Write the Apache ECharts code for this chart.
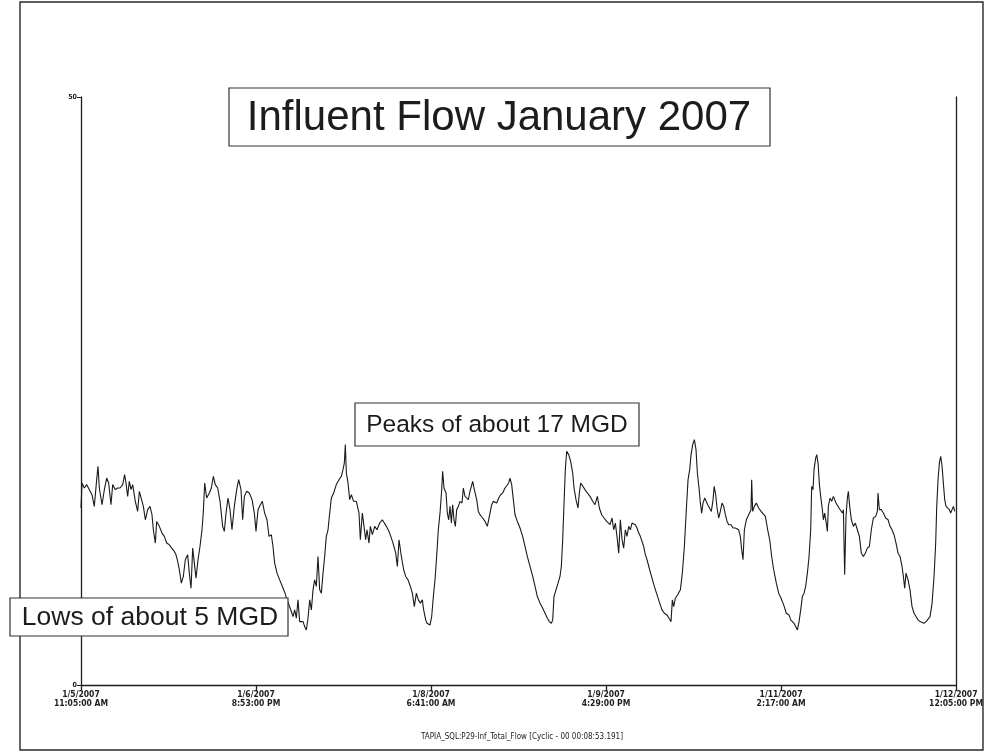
<!DOCTYPE html>
<html>
<head>
<meta charset="utf-8">
<script src="https://cdn.jsdelivr.net/npm/echarts@6/dist/echarts.min.js"></script>
<style>
  html, body { margin: 0; padding: 0; background: #fff; }
  #main { width: 986px; height: 755px; }
</style>
</head>
<body>
<div id="main"></div>
<script>
// hours after 1/5/2007 11:05:00 AM
const hoursFromStart = [
  0, 0.19, 0.64, 1.09, 1.61, 2.12, 2.57, 3.03, 3.28, 3.54, 4.06, 4.51, 4.96, 5.34, 5.79, 6.12, 6.63, 7.08, 7.53, 8.05,
  8.43, 8.69, 9.01, 9.33, 9.66, 9.98, 10.49, 10.94, 11.27, 11.65, 12.04, 12.43, 12.88, 13.33, 13.71, 13.97, 14.36, 14.61, 15.13, 15.64,
  16.09, 16.55, 17.06, 17.51, 18.03, 18.35, 18.67, 18.99, 19.38, 19.76, 20.15, 20.60, 20.92, 21.25, 21.57, 21.89, 22.21, 22.60, 22.98, 23.37,
  23.63, 23.89, 24.27, 24.79, 25.17, 25.56, 25.94, 26.40, 26.85, 27.36, 27.68, 28.01, 28.39, 28.78, 29.16, 29.61, 30.07, 30.45, 30.90, 31.22,
  31.55, 32.00, 32.51, 33.03, 33.48, 33.80,
  34.19, 34.64, 35.02, 35.47, 35.92, 36.31, 36.76, 37.08, 37.40, 37.86, 38.37, 38.89, 39.40, 39.79, 40.17, 40.62, 40.95, 41.27, 41.59, 41.91,
  42.23, 42.55, 42.88, 43.20, 43.52, 43.84, 44.17, 44.49, 44.81, 45.13, 45.45, 45.77, 46.10, 46.42, 46.74, 47.06, 47.38, 47.71, 48.03, 48.35,
  48.80, 49.31, 49.83, 50.28, 50.60, 50.86, 51.05, 51.25, 51.57, 51.89, 52.21, 52.66, 53.18, 53.69, 53.95, 54.34, 54.66, 54.98, 55.24, 55.62,
  55.88, 56.27, 56.72, 57.17, 57.68, 58.20, 58.52, 58.97, 59.49, 59.94, 60.26, 60.78, 61.10, 61.42, 61.87, 62.32, 62.71, 63.16, 63.61, 63.99,
  64.38, 64.77, 65.15, 65.54, 65.92, 66.18, 66.57, 66.83,
  67.41, 67.73, 68.05, 68.37, 68.69, 69.01, 69.34, 69.66, 69.85, 70.11, 70.50, 70.75, 71.01, 71.27, 71.53, 71.78, 72.04, 72.30, 72.56, 72.88,
  73.20, 73.59, 73.84, 74.17, 74.49, 74.81, 75.13, 75.45, 75.65, 75.90, 76.16, 76.42, 76.74, 77.06, 77.58, 78.03, 78.48, 78.74, 78.99, 79.32,
  79.64, 79.96, 80.28, 80.67, 81.05, 81.44, 81.89, 82.21, 82.60, 82.86, 83.18, 83.50, 83.82, 84.27, 84.79, 85.30, 85.75, 86.20, 86.72, 87.24,
  87.69, 88.14, 88.65, 89.17, 89.62, 90.07, 90.45, 90.84, 91.10, 91.35, 91.74, 92.13, 92.51, 92.77, 93.03, 93.29, 93.54, 93.80, 94.19, 94.57,
  94.96, 95.22, 95.60, 95.99, 96.25, 96.51, 96.89, 97.34, 97.79, 98.31, 98.83, 99.27, 99.73, 100.11, 100.56, 101.01, 101.53, 102.17,
  102.56, 102.88, 103.20, 103.52, 103.85, 104.17, 104.49, 104.81, 105.13, 105.45, 105.78, 106.10, 106.42, 106.74, 107.06, 107.39, 107.71, 108.03, 108.35, 108.67,
  109.00, 109.32, 109.83, 110.28, 110.73, 111.25, 111.77, 112.21, 112.67, 113.18, 113.57, 113.95, 114.21, 114.47, 114.79, 115.24, 115.76, 116.14, 116.53, 116.91,
  117.24, 117.56, 117.82, 118.14, 118.46, 118.78, 119.04, 119.36, 119.62, 119.88, 120.13, 120.46, 120.78, 121.04, 121.42, 121.74, 122.07, 122.29, 122.58, 122.84,
  123.16, 123.48, 123.80, 124.12, 124.45, 124.77, 125.09, 125.54, 125.93, 126.38, 126.70, 127.02, 127.34, 127.60, 127.86, 128.12, 128.50, 128.95, 129.40, 129.53,
  129.72, 130.05, 130.43, 130.88, 131.34, 131.72, 132.17, 132.62, 133.01, 133.39, 133.78, 134.29, 134.74, 135.20, 135.71, 136.22,
  136.42, 136.74, 137.07, 137.39, 137.71, 138.03, 138.36, 138.68, 139.00, 139.32, 139.64, 139.96, 140.29, 140.61, 140.93, 141.12, 141.38, 141.57, 141.90, 142.09,
  142.35, 142.61, 142.86, 143.18, 143.38, 143.63, 143.89, 144.15, 144.34, 144.66, 144.98, 145.31, 145.56, 145.82, 146.08, 146.40, 146.72, 147.04, 147.24, 147.49,
  147.75, 148.01, 148.20, 148.46, 148.78, 149.17, 149.55, 149.94, 150.33, 150.71, 151.10, 151.49, 151.87, 152.26, 152.64, 153.03, 153.48, 153.80, 153.93, 154.19,
  154.58, 154.96, 155.41, 155.87, 156.25, 156.64, 157.02, 157.41, 157.80, 158.18, 158.57, 158.83, 159.08, 159.34, 159.73, 160.11, 160.50, 160.89, 161.27, 161.66,
  162.05, 162.43, 162.82, 163.21, 163.59, 163.98, 164.37, 164.75, 165.07, 165.27, 165.52, 165.78, 166.04, 166.30, 166.55, 166.81, 167.07, 167.33, 167.71, 167.97,
  168.23, 168.49, 168.75
];

// influent flow, MGD
const flowMgd = [
  15.05, 17.18, 16.75, 17.04, 16.61, 16.18, 15.19, 17.46, 18.60, 16.75, 15.33, 16.61, 17.60, 17.18, 15.33, 17.04, 16.61, 16.75, 16.75, 17.04,
  17.89, 17.18, 16.04, 17.32, 16.61, 17.04, 15.62, 14.76, 16.47, 16.61, 15.19, 14.05, 14.91, 15.19, 14.48, 13.20, 12.07, 13.91, 13.49, 12.92,
  12.64, 12.07, 11.93, 11.64, 11.36, 11.07, 10.51, 9.80, 8.66, 9.23, 10.65, 11.07, 9.51, 8.23, 11.64, 10.36, 9.09, 10.65, 11.78, 13.20,
  14.76, 17.18, 15.90, 16.33, 16.75, 17.75, 17.04, 16.75, 15.62, 13.49, 13.06, 14.62, 15.90, 14.91, 13.20, 15.19, 16.61, 17.46, 16.61, 14.05,
  16.04, 16.47, 16.33, 15.76, 14.62, 13.06,
  14.91, 15.33, 15.62, 14.62, 14.05, 12.64, 12.78, 11.78, 10.36, 9.51, 8.94, 8.38, 7.81, 7.24, 6.81, 6.25, 5.82, 6.39, 5.68, 7.24,
  5.39, 5.25, 5.39, 4.97, 4.68, 5.68, 7.24, 6.39, 8.09, 8.94, 8.38, 10.93, 8.09, 7.81, 9.51, 10.93, 12.64, 13.20, 14.62, 15.90,
  16.33, 17.04, 17.46, 17.75, 18.31, 18.88, 20.44, 18.03, 17.18, 15.76, 16.18, 15.62, 15.62, 14.62, 12.35, 14.62, 13.49, 12.35, 13.20, 12.07,
  13.49, 12.78, 13.49, 13.20, 13.77, 14.05, 14.20, 13.49, 13.06, 12.49, 12.07, 11.21, 10.08, 12.35, 10.93, 9.80, 9.23, 8.94, 8.38, 7.81,
  6.67, 7.81, 7.24, 6.96, 7.24, 6.39, 5.54, 5.25,
  5.11, 5.82, 7.52, 8.94, 10.93, 13.20, 14.62, 16.61, 18.17, 16.75, 16.33, 14.62, 14.05, 15.19, 13.77, 15.33, 14.05, 13.49, 14.91, 15.19,
  15.62, 15.47, 16.75, 16.04, 16.18, 15.76, 16.47, 16.61, 17.32, 16.75, 16.89, 15.76, 14.76, 14.48, 14.20, 13.91, 13.49, 13.35, 14.62, 15.33,
  15.62, 15.76, 15.47, 15.90, 16.18, 16.33, 16.75, 16.89, 17.18, 17.60, 17.04, 15.76, 14.48, 13.91, 13.35, 12.64, 11.78, 10.93, 10.08, 9.23,
  8.38, 7.52, 6.96, 6.53, 6.10, 5.68, 5.39, 5.25, 5.54, 7.52, 8.09, 8.66, 9.23, 10.08, 12.35, 15.47, 18.31, 19.87, 19.59, 19.02,
  18.03, 16.75, 15.76, 15.05, 16.33, 17.18, 17.04, 16.61, 16.33, 16.04, 15.62, 15.33, 16.04, 15.05, 14.48, 14.20, 13.91, 13.63,
  14.20, 13.20, 13.77, 12.64, 11.21, 14.05, 12.35, 11.64, 13.20, 12.64, 13.49, 13.20, 13.77, 13.91, 13.63, 13.35, 12.92, 12.64, 12.78, 11.78,
  11.07, 10.65, 9.80, 9.09, 8.38, 7.67, 6.96, 6.39, 6.10, 5.96, 5.68, 5.39, 7.24, 6.67, 7.38, 7.67, 8.09, 9.51, 11.78, 14.91,
  17.46, 18.31, 19.59, 20.44, 20.87, 20.02, 18.03, 16.75, 15.47, 14.62, 15.47, 15.90, 15.76, 15.33, 15.19, 14.76, 15.76, 16.89, 16.18, 15.05,
  14.20, 14.76, 15.47, 15.19, 14.48, 13.91, 13.63, 13.63, 13.35, 13.35, 13.35, 13.20, 12.64, 11.50, 10.65, 13.20, 14.05, 14.48, 14.91, 17.46,
  14.76, 15.19, 15.47, 15.05, 14.76, 14.91, 14.34, 13.20, 12.35, 10.93, 9.80, 8.66, 7.81, 7.38, 6.81, 6.10,
  6.25, 5.96, 5.54, 5.68, 5.25, 4.97, 4.68, 5.39, 6.39, 7.52, 7.81, 8.38, 9.51, 10.93, 13.20, 16.89, 16.61, 18.31, 19.31, 19.59,
  18.88, 17.04, 16.04, 14.91, 14.05, 14.62, 13.91, 13.06, 15.19, 15.90, 15.62, 16.04, 16.18, 15.47, 15.62, 15.05, 15.19, 14.62, 14.91, 9.37,
  14.34, 15.90, 16.47, 15.19, 14.05, 13.49, 13.77, 13.20, 12.64, 11.21, 10.93, 11.21, 11.64, 11.78, 13.20, 14.20, 14.34, 14.76, 16.33, 14.91,
  14.91, 14.62, 14.20, 14.05, 13.49, 13.20, 12.78, 12.07, 11.21, 10.93, 10.08, 9.23, 8.23, 9.51, 8.94, 8.09, 6.67, 6.10, 5.82, 5.54,
  5.39, 5.54, 5.25, 5.39, 5.39, 5.82, 6.96, 9.23, 12.07, 15.19, 17.46, 18.88, 19.45, 18.60, 17.18, 15.76, 15.19, 15.05, 14.91, 14.62,
  14.91, 15.19, 14.76
];

// axis settings
const startTime = Date.UTC(2007, 0, 5, 11, 5, 0);
const xMaxHours = 169;
const xTickHours = 33.8;   // 33:48:00 between labels
const yMax = 50;

const titleText = 'Influent Flow January 2007';
const peakNote = 'Peaks of about 17 MGD';
const lowNote = 'Lows of about 5 MGD';
const tagText = 'TAPIA_SQL:P29-Inf_Total_Flow [Cyclic - 00 00:08:53.191]';

const seriesData = hoursFromStart.map((h, i) => [h, flowMgd[i]]);

function fmtTick(value) {
  const t = new Date(startTime + Math.round(value * 60) * 60000);
  const hr = t.getUTCHours();
  const h12 = hr % 12 === 0 ? 12 : hr % 12;
  const mm = String(t.getUTCMinutes()).padStart(2, '0');
  const ampm = hr < 12 ? 'AM' : 'PM';
  return (t.getUTCMonth() + 1) + '/' + t.getUTCDate() + '/' + t.getUTCFullYear() +
    '\n' + h12 + ':' + mm + ':00 ' + ampm;
}

const smallFont = "'Liberation Sans Narrow', 'DejaVu Sans Condensed', sans-serif";
const boxFont = "'Liberation Sans', Arial, sans-serif";

const chart = echarts.init(document.getElementById('main'), null, { renderer: 'canvas' });

const option = {
  backgroundColor: '#ffffff',
  animation: false,
  grid: { left: 81, right: 29, top: 97, bottom: 70 },
  xAxis: {
    type: 'value',
    min: 0,
    max: xMaxHours,
    interval: xTickHours,
    axisLine: { lineStyle: { color: '#1e1e1e', width: 1.3 } },
    axisTick: { show: true, length: 6, lineStyle: { color: '#1e1e1e', width: 1.3 } },
    splitLine: { show: false },
    axisLabel: {
      formatter: fmtTick,
      color: '#1e1e1e',
      fontSize: 8.5,
      fontWeight: 'bold',
      lineHeight: 9,
      fontFamily: smallFont,
      showMaxLabel: true,
      showMinLabel: true,
      hideOverlap: false,
      margin: 5
    }
  },
  yAxis: [
    {
      type: 'value',
      min: 0,
      max: yMax,
      interval: yMax,
      axisLine: { show: true, lineStyle: { color: '#1e1e1e', width: 1.3 } },
      axisTick: { show: true, length: 4, lineStyle: { color: '#1e1e1e' } },
      splitLine: { show: false },
      axisLabel: { color: '#222', fontSize: 7, fontWeight: 'bold', fontFamily: smallFont, margin: 4 }
    },
    {
      type: 'value',
      position: 'right',
      min: 0,
      max: yMax,
      interval: yMax,
      axisLine: { show: true, lineStyle: { color: '#1e1e1e', width: 1.3 } },
      axisTick: { show: false },
      axisLabel: { show: false },
      splitLine: { show: false }
    }
  ],
  series: [
    {
      type: 'line',
      data: seriesData,
      showSymbol: false,
      symbol: 'none',
      lineStyle: { color: '#1a1a1a', width: 1.1 },
      z: 2
    }
  ],
  graphic: [
    {
      type: 'rect',
      shape: { x: 20, y: 2, width: 963, height: 748 },
      style: { fill: 'none', stroke: '#2a2a2a', lineWidth: 1.4 },
      z: 1
    },
    {
      type: 'rect',
      shape: { x: 229, y: 88, width: 541, height: 58 },
      style: { fill: '#fff', stroke: '#333', lineWidth: 1.2 },
      z: 10
    },
    {
      type: 'text',
      style: {
        text: titleText, x: 499, y: 118, textAlign: 'center', textVerticalAlign: 'middle',
        font: '42px ' + boxFont, fill: '#1c1c1c'
      },
      z: 11
    },
    {
      type: 'rect',
      shape: { x: 355, y: 403, width: 284, height: 43 },
      style: { fill: '#fff', stroke: '#333', lineWidth: 1.2 },
      z: 10
    },
    {
      type: 'text',
      style: {
        text: peakNote, x: 497, y: 425, textAlign: 'center', textVerticalAlign: 'middle',
        font: '24.5px ' + boxFont, fill: '#1c1c1c'
      },
      z: 11
    },
    {
      type: 'rect',
      shape: { x: 10, y: 598, width: 278, height: 38 },
      style: { fill: '#fff', stroke: '#333', lineWidth: 1.2 },
      z: 10
    },
    {
      type: 'text',
      style: {
        text: lowNote, x: 150, y: 618, textAlign: 'center', textVerticalAlign: 'middle',
        font: '26.5px ' + boxFont, fill: '#1c1c1c'
      },
      z: 11
    },
    {
      type: 'text',
      style: {
        text: tagText, x: 522, y: 737, textAlign: 'center', textVerticalAlign: 'middle',
        font: '8px ' + smallFont, fill: '#222'
      },
      z: 11
    }
  ]
};

chart.setOption(option);
</script>
</body>
</html>
